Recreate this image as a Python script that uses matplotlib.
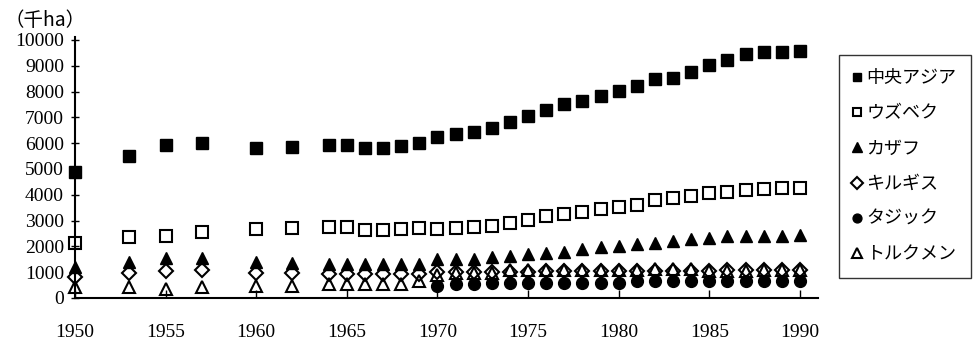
import numpy as np
import matplotlib
matplotlib.use("Agg")
import matplotlib.pyplot as plt

# 灌漑面積 (千ha)
years = [1950, 1953, 1955, 1957, 1960, 1962] + list(range(1964, 1991))

central_asia = [4900, 5500, 5920, 6000, 5810, 5850,
                5920, 5920, 5810, 5810, 5880, 6000, 6230, 6350, 6420, 6580,
                6810, 7040, 7270, 7500, 7650, 7810, 8040, 8230, 8500, 8540,
                8770, 9040, 9230, 9460, 9540, 9540, 9580]
uzbek = [2120, 2380, 2420, 2540, 2690, 2730,
         2770, 2770, 2650, 2650, 2690, 2730, 2690, 2730, 2770, 2810,
         2920, 3040, 3190, 3270, 3350, 3460, 3540, 3620, 3780, 3880,
         3960, 4080, 4120, 4190, 4230, 4270, 4270]
kazakh = [1190, 1380, 1540, 1540, 1380, 1350,
          1310, 1310, 1310, 1310, 1310, 1330, 1500, 1500, 1500, 1580,
          1610, 1690, 1730, 1800, 1880, 1960, 2010, 2080, 2140, 2200,
          2270, 2330, 2400, 2420, 2420, 2420, 2460]
kyrgyz = [800, 960, 1040, 1080, 960, 960,
          920, 920, 920, 920, 920, 940, 1000, 1000, 1000, 1010,
          1020, 1020, 1030, 1030, 1040, 1040, 1040, 1040, 1050, 1050,
          1050, 1060, 1070, 1080, 1090, 1100, 1100]
tajik_years = list(range(1970, 1991))
tajik = [460, 530, 560, 600, 600, 600, 600, 600, 600, 600, 600,
         640, 640, 640, 640, 640, 640, 640, 640, 640, 640]
turkmen = [420, 420, 350, 420, 460, 460,
           540, 540, 540, 540, 540, 650, 880, 950, 950, 960,
           1080, 1080, 1090, 1090, 1100, 1100, 1100, 1100, 1110, 1110,
           1110, 1040, 1050, 1060, 1070, 1080, 1080]

labels = ["中央アジア", "ウズベク", "カザフ", "キルギス", "タジック", "トルクメン"]
xticks = [1950, 1955, 1960, 1965, 1970, 1975, 1980, 1985, 1990]
yticks = list(range(0, 10001, 1000))

plt.rcParams["font.family"] = ["Liberation Serif", "Noto Sans CJK JP"]
jp = ["Noto Sans CJK JP", "DejaVu Sans"]

fig = plt.figure(figsize=(9.73, 3.43), dpi=100)
ax = fig.add_axes([75/973, 1-298/343, (818-75)/973, (298-37)/343])

kw = dict(linestyle="none", color="black", clip_on=False)
h1, = ax.plot(years, central_asia, marker="s", ms=8.5, mfc="black", **kw)
h2, = ax.plot(years, uzbek, marker="s", ms=8.5, mfc="none", mew=1.5, **kw)
h3, = ax.plot(years, kazakh, marker="^", ms=9, mfc="black", **kw)
h4, = ax.plot(years, kyrgyz, marker="D", ms=7.5, mfc="none", mew=1.5, **kw)
h5, = ax.plot(tajik_years, tajik, marker="o", ms=8.5, mfc="black", **kw)
h6, = ax.plot(years, turkmen, marker="^", ms=9, mfc="none", mew=1.5, **kw)

ax.set_xlim(1950, 1991)
ax.set_ylim(0, 10116)
ax.spines["top"].set_visible(False)
ax.spines["right"].set_visible(False)
ax.spines["left"].set_linewidth(1.5)
ax.spines["bottom"].set_linewidth(1.5)

ax.set_xticks(xticks)
ax.set_yticks(yticks)
ax.tick_params(axis="x", direction="in", length=6, width=1, pad=19, labelsize=14)
ax.tick_params(axis="y", direction="inout", length=6, width=1, pad=5, labelsize=14)

fig.text(4/973, 1-20/343, "（千ha）", family=jp, fontsize=14, va="center", ha="left")

leg = fig.legend([h1, h2, h3, h4, h5, h6], labels, loc="upper left",
                 bbox_to_anchor=(839/973, 1-55/343), prop={"family": jp, "size": 13},
                 markerscale=0.75, handlelength=0.4, handletextpad=0.3,
                 labelspacing=0.95, borderpad=0.8, borderaxespad=0,
                 frameon=True, fancybox=False)
leg.get_frame().set_edgecolor("black")
leg.get_frame().set_linewidth(1)

fig.savefig("out.png", dpi=100)
